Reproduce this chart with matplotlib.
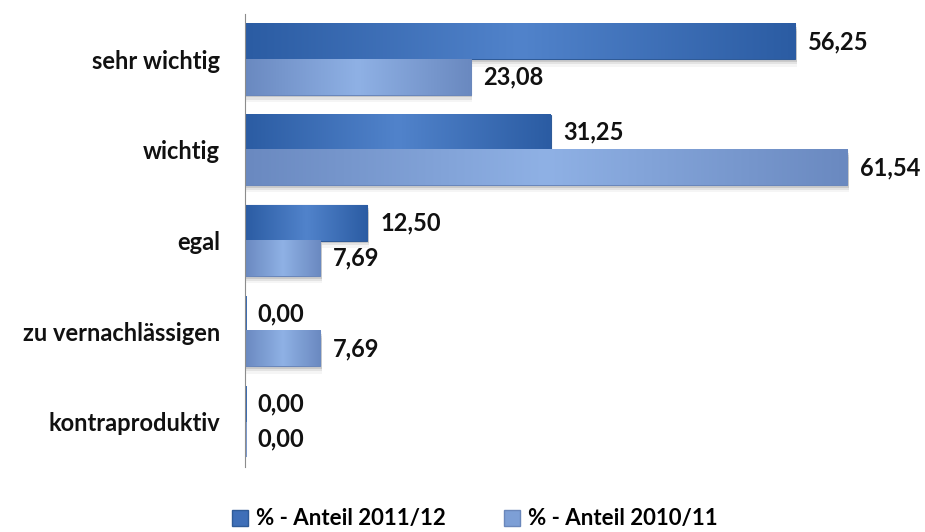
import numpy as np
import matplotlib.pyplot as plt
from matplotlib.colors import LinearSegmentedColormap

categories = ["sehr wichtig", "wichtig", "egal", "zu vernachlässigen", "kontraproduktiv"]
anteil_2011 = [56.25, 31.25, 12.50, 0.00, 0.00]
anteil_2010 = [23.08, 61.54, 7.69, 7.69, 0.00]
series_names = ["% - Anteil 2011/12", "% - Anteil 2010/11"]

plt.rcParams["font.family"] = ["Lato", "DejaVu Sans"]

fig = plt.figure(figsize=(9.25, 5.32), dpi=100)
ax = fig.add_axes([245 / 925, 1 - 467 / 532, 1 - 245 / 925, 453 / 532])

dark_cmap = LinearSegmentedColormap.from_list("d", ["#2b5ca3", "#5183cb", "#2b5ca3"])
light_cmap = LinearSegmentedColormap.from_list("l", ["#6a89c0", "#8fb1e5", "#6a89c0"])

y = np.arange(len(categories))
h = 0.39
bars1 = ax.barh(y - h / 2, anteil_2011, height=h, color="#3f6fb8", edgecolor="#2f5b98", linewidth=0.8, zorder=3)
bars2 = ax.barh(y + h / 2, anteil_2010, height=h, color="#7d9fd6", edgecolor="#6a87bb", linewidth=0.8, zorder=3)

grad = np.linspace(0, 1, 256).reshape(1, -1)
for bars, cmap in [(bars1, dark_cmap), (bars2, light_cmap)]:
    for b in bars:
        x0, y0, w, hh = b.get_x(), b.get_y(), b.get_width(), b.get_height()
        if w <= 0:
            # tiny sliver like the original for 0 values
            ax.barh(y0 + hh / 2, 0.25, height=hh, color=cmap(0.2), zorder=3)
            continue
        # soft shadow under the bar
        for k, a in enumerate([0.10, 0.07, 0.04]):
            ax.barh(y0 + hh / 2 + 0.03 + k * 0.025, w, height=hh, left=x0 + 0.15,
                    color="#000000", alpha=a, zorder=2, linewidth=0)
        ax.imshow(grad, extent=[x0, x0 + w, y0 + hh, y0], aspect="auto", cmap=cmap,
                  interpolation="bicubic", zorder=4)

for bars, vals in [(bars1, anteil_2011), (bars2, anteil_2010)]:
    for b, v in zip(bars, vals):
        ax.text(v + 1.3, b.get_y() + b.get_height() / 2, f"{v:.2f}".replace(".", ","),
                va="center", ha="left", fontsize=17, fontweight="bold", color="#111111", zorder=5)

ax.set_xlim(0, 69.5)
ax.set_ylim(len(categories) - 0.5, -0.5)
ax.set_yticks(y)
ax.set_yticklabels(categories, fontsize=17, fontweight="bold", color="#111111")
ax.tick_params(axis="y", length=0, pad=18)
ax.set_xticks([])
for s in ["top", "right", "bottom"]:
    ax.spines[s].set_visible(False)
ax.spines["left"].set_color("#8c8c8c")
ax.spines["left"].set_zorder(6)

handles = [plt.Rectangle((0, 0), 1, 1, facecolor="#3f6fb8", edgecolor="#2f5b98"),
           plt.Rectangle((0, 0), 1, 1, facecolor="#7d9fd6", edgecolor="#6a87bb")]
fig.legend(handles, series_names, loc="center", bbox_to_anchor=(475 / 925, 1 - 519 / 532), ncol=2,
           frameon=False, prop={"weight": "bold", "size": 16},
           handlelength=0.7, handleheight=0.7, handletextpad=0.4, columnspacing=2.6)

fig.savefig("out.png", dpi=100)
